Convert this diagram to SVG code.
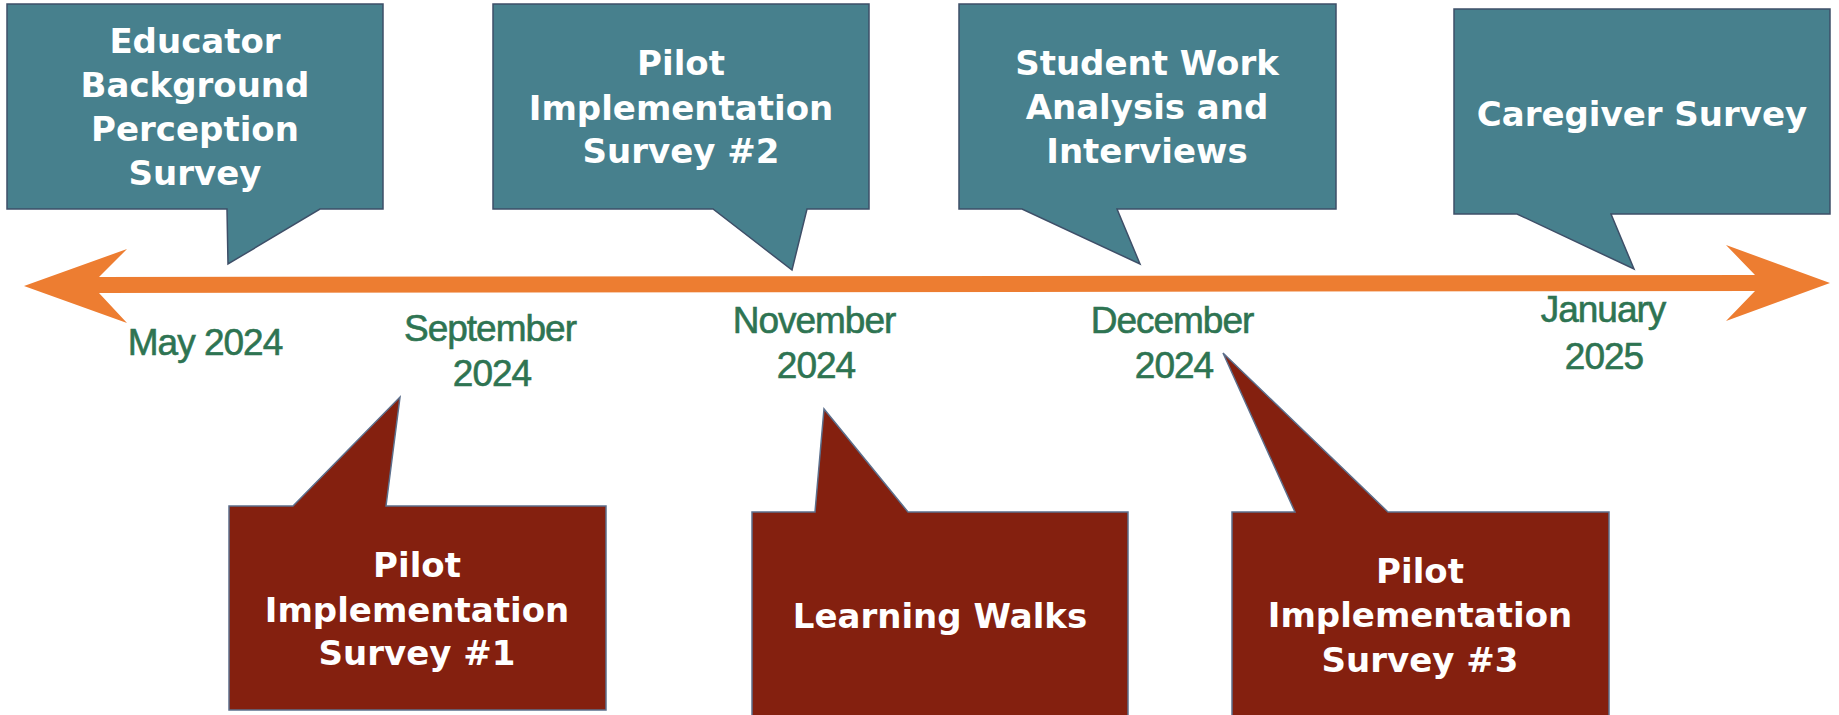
<svg xmlns="http://www.w3.org/2000/svg" width="1839" height="715" viewBox="0 0 1839 715">
  <style>
    .top { fill: #47808D; stroke: #3E4F68; stroke-width: 1.5; stroke-linejoin: miter; }
    .bot { fill: #84200F; stroke: #5C6F8C; stroke-width: 1.5; stroke-linejoin: miter; }
    .lbl { font-family: "DejaVu Sans", "Open Sans", sans-serif; font-weight: 700; font-size: 34px; fill: #FFFFFF; text-anchor: middle; }
    .date { font-family: "Liberation Sans", Arial, sans-serif; font-size: 37px; letter-spacing: -1px; fill: #2E7452; stroke: #2E7452; stroke-width: 0.6; text-anchor: middle; }
    .axis { fill: #ED7D31; }
  </style>
  <rect width="1839" height="715" fill="#FFFFFF"/>

  <!-- timeline axis: double-headed arrow -->
  <g id="connectors">
    <polygon class="axis" points="24,286 127,249 99,277 1755,275 1726,245 1830,283 1726,321 1755,291 99,293 127,323"/>
  </g>

  <!-- date labels -->
  <g id="dates">
    <text class="date" x="205" y="355">May 2024</text>
    <text class="date" x="490" y="341">September</text>
    <text class="date" x="492" y="386">2024</text>
    <text class="date" x="814" y="333">November</text>
    <text class="date" x="816" y="378">2024</text>
    <text class="date" x="1172" y="333">December</text>
    <text class="date" x="1174" y="378">2024</text>
    <text class="date" x="1603" y="322">January</text>
    <text class="date" x="1604" y="369">2025</text>
  </g>

  <!-- callouts above the axis -->
  <g id="educator-survey">
    <path class="top" d="M7,4 H383 V209 H320 L228,264 L227,209 H7 Z"/>
    <text class="lbl" x="195" y="53">Educator</text>
    <text class="lbl" x="195" y="97">Background</text>
    <text class="lbl" x="195" y="141">Perception</text>
    <text class="lbl" x="195" y="185">Survey</text>
  </g>
  <g id="pilot-survey-2">
    <path class="top" d="M493,4 H869 V209 H807 L792,270 L713,209 H493 Z"/>
    <text class="lbl" x="681" y="75">Pilot</text>
    <text class="lbl" x="681" y="120">Implementation</text>
    <text class="lbl" x="681" y="163">Survey #2</text>
  </g>
  <g id="student-work">
    <path class="top" d="M959,4 H1336 V209 H1117 L1140,264 L1022,209 H959 Z"/>
    <text class="lbl" x="1147" y="75">Student Work</text>
    <text class="lbl" x="1147" y="119">Analysis and</text>
    <text class="lbl" x="1147" y="163">Interviews</text>
  </g>
  <g id="caregiver-survey">
    <path class="top" d="M1454,9 H1830 V214 H1611 L1634,269 L1517,214 H1454 Z"/>
    <text class="lbl" x="1642" y="126">Caregiver Survey</text>
  </g>

  <!-- callouts below the axis -->
  <g id="pilot-survey-1">
    <path class="bot" d="M229,506 H293 L400,397 L386,506 H606 V710 H229 Z"/>
    <text class="lbl" x="417" y="577">Pilot</text>
    <text class="lbl" x="417" y="622">Implementation</text>
    <text class="lbl" x="417" y="665">Survey #1</text>
  </g>
  <g id="learning-walks">
    <path class="bot" d="M752,512 H815 L824,409 L908,512 H1128 V720 H752 Z"/>
    <text class="lbl" x="940" y="628">Learning Walks</text>
  </g>
  <g id="pilot-survey-3">
    <path class="bot" d="M1232,512 H1295 L1223,353 L1388,512 H1609 V720 H1232 Z"/>
    <text class="lbl" x="1420" y="583">Pilot</text>
    <text class="lbl" x="1420" y="627">Implementation</text>
    <text class="lbl" x="1420" y="672">Survey #3</text>
  </g>
</svg>
